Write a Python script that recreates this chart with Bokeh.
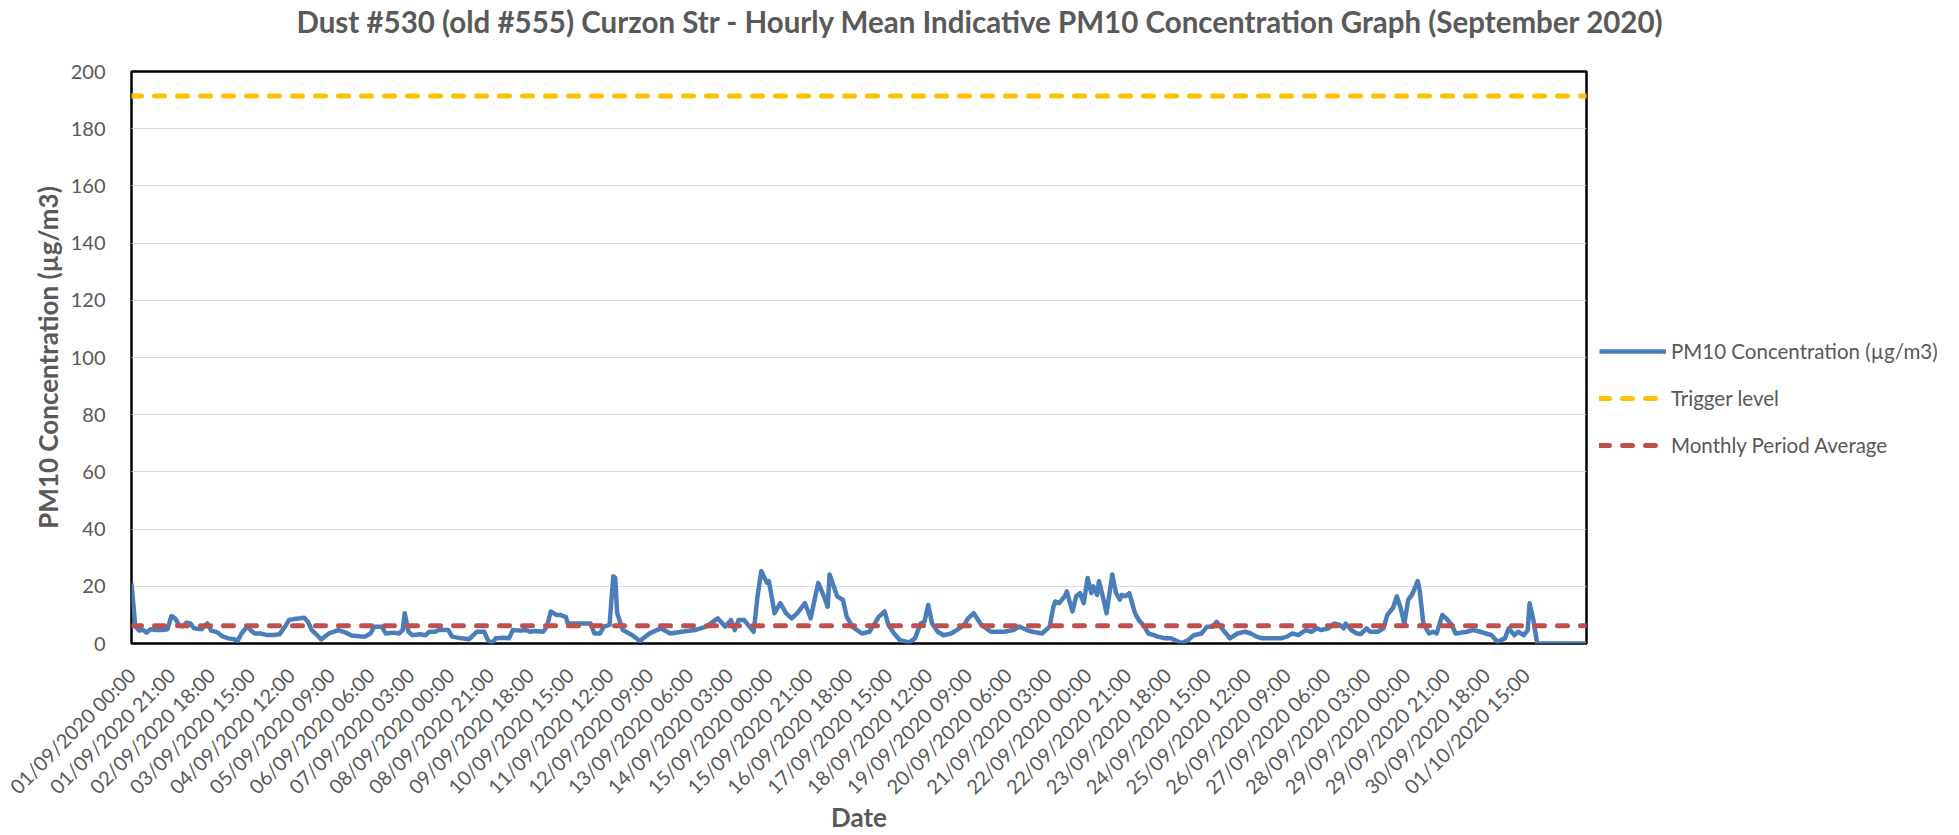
import math
from bokeh.plotting import figure
from bokeh.models import Range1d, FixedTicker, Legend, LegendItem, Title
from bokeh.embed import file_html
from bokeh.resources import INLINE

TITLE = "Dust #530 (old #555) Curzon Str - Hourly Mean Indicative PM10 Concentration Graph (September 2020)"
Y_TITLE = "PM10 Concentration (µg/m3)"
X_TITLE = "Date"
SERIES_NAMES = ["PM10 Concentration (µg/m3)", "Trigger level", "Monthly Period Average"]

# hour offset from 01/09/2020 00:00 and PM10 reading (µg/m3)
hours = [
    0, 2, 4, 6, 8, 10, 13, 16, 19, 21, 23, 25, 27, 29, 31, 33, 37, 40, 42, 45,
    48, 51, 54, 56, 58, 61, 63, 65, 68, 71, 75, 78, 81, 83, 86, 89, 91, 93, 95, 97,
    100, 104, 106, 109, 113, 116, 120, 123, 126,
    128, 132, 134, 138, 141, 143, 144, 146, 148, 152, 155, 157, 160, 162, 167, 169,
    174, 178, 182, 186, 188, 190, 192, 196, 199, 201, 205, 208, 210, 213, 217, 219,
    221, 224, 226, 229, 230, 234, 237, 242, 244, 247, 249, 252, 254,
    255, 256, 259, 264, 268, 273, 279, 284, 290, 297, 303, 309, 313, 316, 318, 320,
    323, 325, 328, 330, 332, 335, 336, 339, 342, 345, 348, 351, 355, 358, 362, 365,
    367, 368, 372, 375, 377, 380, 385,
    389, 394, 397, 399, 402, 405, 410, 413, 416, 418, 420, 422, 425, 428, 432, 435,
    439, 441, 444, 448, 453, 460, 465, 468, 472, 475, 480, 484, 486, 487, 489, 492,
    493, 496, 498, 500, 502, 504, 506, 507, 509,
    510, 512, 514, 517, 519, 521, 522, 524, 526, 528, 529, 531, 534, 536, 539, 541,
    545, 548, 552, 554, 557, 560, 564, 567, 570, 572, 574, 577, 579, 583, 587, 590,
    593, 596, 601, 606, 609, 612, 615, 619, 622, 625, 627, 631, 634, 637,
    639, 640, 643, 646, 648, 651, 653, 657, 660, 662, 665, 667, 669, 671, 673, 675,
    678, 679, 681, 684, 686, 688, 691, 693, 696, 698, 704, 707, 711, 714, 717, 720,
    724, 726, 729, 731, 734, 736, 737, 739, 741, 767,
]
pm10 = [
    21.0, 6.0, 4.5, 4.8, 3.8, 5.0, 4.7, 4.7, 5.0, 9.6, 8.8, 6.5, 6.0, 7.3, 7.0, 5.3, 5.0, 7.0, 4.5, 4.0,
    2.5, 1.8, 1.5, 1.0, 3.5, 6.0, 4.5, 3.5, 3.5, 3.0, 3.0, 3.2, 6.0, 8.2, 8.6, 8.8, 9.0, 7.6, 4.7, 3.5,
    1.4, 3.5, 4.0, 4.7, 3.8, 2.8, 2.5, 2.4, 3.5,
    5.9, 5.9, 3.5, 3.8, 3.5, 4.7, 10.6, 4.1, 2.9, 3.2, 2.9, 4.1, 4.1, 4.7, 4.7, 2.4,
    1.8, 1.5, 4.1, 4.1, 1.0, 0.2, 1.8, 2.0, 1.8, 4.7, 4.5, 4.7, 4.1, 4.4, 4.1, 5.9,
    11.2, 10.0, 10.0, 9.2, 7.0, 7.0, 7.0, 7.0, 3.5, 3.5, 5.9, 6.5, 23.5,
    23.0, 10.6, 4.7, 2.9, 0.9, 3.5, 5.3, 3.5, 4.1, 4.7, 5.9, 8.8, 5.9, 8.2, 4.7, 8.2,
    8.2, 6.5, 4.1, 16.5, 25.3, 21.2, 21.8, 10.6, 14.1, 10.6, 8.8, 10.6, 14.1, 8.8, 21.2, 16.5,
    12.9, 24.1, 16.5, 15.3, 9.4, 5.9, 3.5,
    4.1, 9.4, 11.2, 6.5, 3.5, 1.2, 0.4, 1.8, 7.0, 7.6, 13.5, 7.0, 4.1, 2.9, 3.5, 4.7,
    6.5, 8.8, 10.6, 6.5, 4.1, 4.1, 4.7, 5.9, 4.7, 4.1, 3.5, 5.9, 12.9, 14.7, 14.1, 16.5,
    18.2, 11.2, 16.5, 17.6, 14.1, 22.9, 17.6, 20.0, 17.0,
    21.8, 16.5, 10.6, 24.1, 17.6, 15.3, 17.0, 16.5, 17.6, 12.9, 10.6, 8.2, 5.9, 3.5, 2.9, 2.4,
    1.8, 1.8, 0.6, 0.2, 1.2, 2.9, 3.5, 5.9, 5.9, 7.6, 5.9, 3.5, 1.8, 3.5, 4.1, 3.5,
    2.4, 1.8, 1.8, 1.8, 2.4, 3.5, 2.9, 4.7, 4.1, 5.3, 4.7, 5.3, 7.0, 6.5,
    5.3, 7.0, 4.7, 3.5, 3.3, 5.3, 4.1, 4.1, 5.3, 10.0, 12.4, 16.5, 12.4, 7.0, 15.3, 17.0,
    21.8, 18.8, 7.0, 3.5, 4.1, 3.5, 10.0, 8.8, 6.5, 3.5, 4.1, 4.7, 4.1, 3.5, 2.9, 0.6,
    1.8, 5.3, 2.9, 4.1, 2.9, 4.7, 14.1, 8.2, 0.0, 0.0,
]
trigger_level = 191.4
monthly_average = 6.2

x_tick_hours = [0, 21, 42, 63, 84, 105, 126, 147, 168, 189, 210, 231, 252, 273, 294, 315, 336, 357,
                378, 399, 420, 441, 462, 483, 504, 525, 546, 567, 588, 609, 630, 651, 672, 693, 714, 735]
x_tick_labels = [
    "01/09/2020 00:00", "01/09/2020 21:00", "02/09/2020 18:00", "03/09/2020 15:00",
    "04/09/2020 12:00", "05/09/2020 09:00", "06/09/2020 06:00", "07/09/2020 03:00",
    "08/09/2020 00:00", "08/09/2020 21:00", "09/09/2020 18:00", "10/09/2020 15:00",
    "11/09/2020 12:00", "12/09/2020 09:00", "13/09/2020 06:00", "14/09/2020 03:00",
    "15/09/2020 00:00", "15/09/2020 21:00", "16/09/2020 18:00", "17/09/2020 15:00",
    "18/09/2020 12:00", "19/09/2020 09:00", "20/09/2020 06:00", "21/09/2020 03:00",
    "22/09/2020 00:00", "22/09/2020 21:00", "23/09/2020 18:00", "24/09/2020 15:00",
    "25/09/2020 12:00", "26/09/2020 09:00", "27/09/2020 06:00", "28/09/2020 03:00",
    "29/09/2020 00:00", "29/09/2020 21:00", "30/09/2020 18:00", "01/10/2020 15:00",
]
y_ticks = [0, 20, 40, 60, 80, 100, 120, 140, 160, 180, 200]

TEXT = "#595959"
FONT = "Lato"

p = figure(width=1959, height=835, output_backend="svg", toolbar_location=None,
           x_range=Range1d(hours[0], hours[-1]), y_range=Range1d(y_ticks[0], y_ticks[-1]),
           min_border_left=131, min_border_right=0, min_border_top=71, min_border_bottom=190,
           background_fill_color="white", border_fill_color="white", title=None)

# spacer (nearest the frame) then the real title above it
p.add_layout(Title(text=" ", standoff=15, text_font=FONT, text_font_size="10px",
                   text_color="white"), "above")
p.add_layout(Title(text=TITLE, align="left", offset=165, vertical_align="top", standoff=4,
                   text_font=FONT, text_font_style="bold", text_font_size="29.5px",
                   text_color=TEXT), "above")

p.xaxis.ticker = FixedTicker(ticks=x_tick_hours)
p.xaxis.major_label_overrides = {h: s for h, s in zip(x_tick_hours, x_tick_labels)}
p.xaxis.major_label_orientation = math.pi / 4
p.yaxis.ticker = FixedTicker(ticks=y_ticks)
p.xaxis.axis_label = X_TITLE
p.yaxis.axis_label = Y_TITLE

for ax in (p.xaxis[0], p.yaxis[0]):
    ax.major_tick_line_color = None
    ax.minor_tick_line_color = None
    ax.axis_line_color = None
    ax.major_label_text_font = FONT
    ax.major_label_text_font_size = "20px"
    ax.major_label_text_color = TEXT
    ax.axis_label_text_font = FONT
    ax.axis_label_text_font_style = "bold"
    ax.axis_label_text_font_size = "26px"
    ax.axis_label_text_color = TEXT
p.yaxis.major_label_standoff = 20
p.xaxis.major_label_standoff = 22
p.yaxis.axis_label_standoff = 4
p.xaxis.axis_label_standoff = -9

p.xgrid.visible = False
p.ygrid.ticker = FixedTicker(ticks=y_ticks)
p.ygrid.grid_line_color = "#D9D9D9"
p.ygrid.grid_line_width = 1
p.outline_line_color = "black"
p.outline_line_width = 2.5
p.outline_line_alpha = 1

r_pm = p.line(hours, pm10, line_color="#4A7EBB", line_width=4.5, line_join="round")
r_tr = p.line([hours[0], hours[-1]], [trigger_level, trigger_level], line_color="#FFC000",
              line_width=5, line_dash="10 13", line_cap="round")
r_av = p.line([hours[0], hours[-1]], [monthly_average, monthly_average], line_color="#C0504D",
              line_width=5, line_dash="10 13", line_cap="round")

legend = Legend(items=[LegendItem(label=SERIES_NAMES[0], renderers=[r_pm]),
                       LegendItem(label=SERIES_NAMES[1], renderers=[r_tr]),
                       LegendItem(label=SERIES_NAMES[2], renderers=[r_av])],
                location=(13, 186), glyph_width=67, glyph_height=24, label_height=24,
                label_width=300, spacing=23, padding=0, margin=-216, label_standoff=5,
                border_line_color=None, background_fill_alpha=0,
                label_text_font=FONT, label_text_font_size="20.5px", label_text_color=TEXT)
p.add_layout(legend, "right")

with open("out.html", "w", encoding="utf-8") as f:
    f.write(file_html(p, INLINE))
